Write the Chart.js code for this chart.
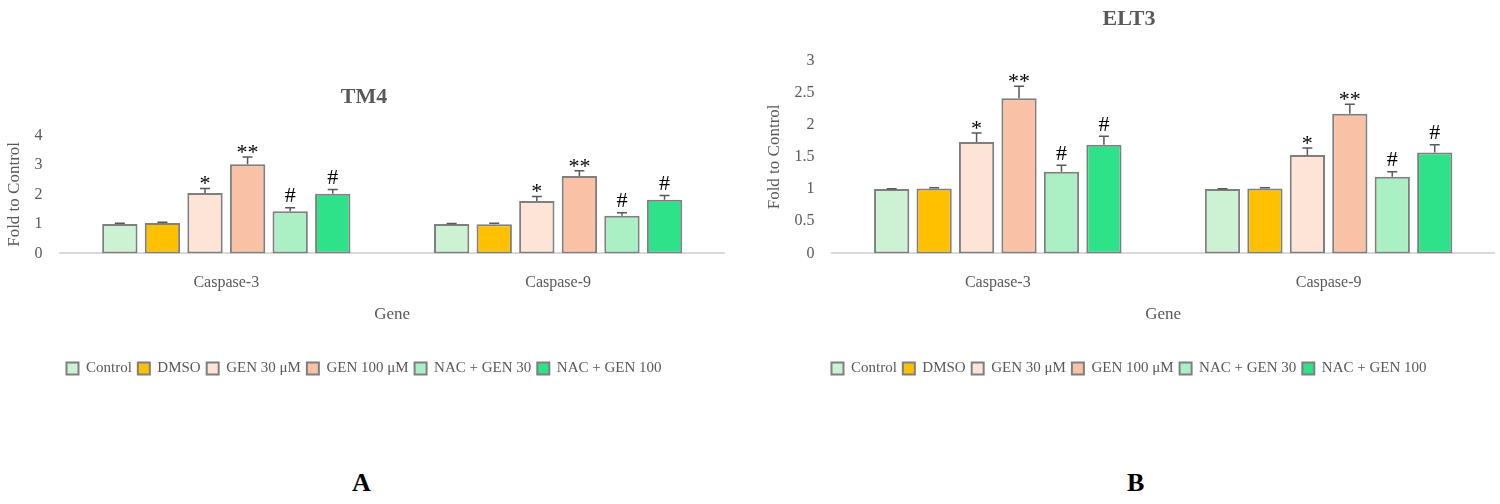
<!DOCTYPE html>
<html><head><meta charset="utf-8">
<script src="https://cdn.jsdelivr.net/npm/chart.js@4"></script>
<style>
body{margin:0;background:#fff;width:1500px;height:504px;position:relative;overflow:hidden;font-family:"Liberation Serif",serif}
.c{position:absolute}
.lab{position:absolute;font-weight:bold;font-size:26px;font-family:"Liberation Serif",serif;color:#000}
</style></head><body>
<div class="c" style="left:0;top:70px;width:730px;height:316px"><canvas id="a"></canvas></div>
<div class="c" style="left:760px;top:0;width:740px;height:386px"><canvas id="b"></canvas></div>
<div class="lab" style="left:352px;top:468px">A</div>
<div class="lab" style="left:1127px;top:468px">B</div>
<script>
const genes = ["Caspase-3","Caspase-9"];
const groups = ["Control","DMSO","GEN 30 μM","GEN 100 μM","NAC + GEN 30","NAC + GEN 100"];
const colors = ["#cdf2d3","#ffc000","#fde4d7","#f9c1a5","#abf0c5","#2ee28a"];
const marks = ["","","*","**","#","#"];
// values per group: [Caspase-3, Caspase-9]
const tm4Values = [[1,1],[1.03,0.99],[2.05,1.78],[3.02,2.62],[1.43,1.28],[2.02,1.82]];
const tm4Errors = [[0.02,0.01],[0.03,0.03],[0.15,0.15],[0.25,0.18],[0.12,0.1],[0.15,0.14]];
const eltValues = [[1,1],[1.01,1.01],[1.73,1.53],[2.41,2.17],[1.27,1.19],[1.69,1.57]];
const eltErrors = [[0.005,0.005],[0.01,0.01],[0.14,0.11],[0.19,0.15],[0.1,0.08],[0.13,0.12]];

const errPlugin = {
  id:'err',
  afterDatasetsDraw(chart){
    const ctx = chart.ctx, y = chart.scales.y;
    chart.data.datasets.forEach((ds,i)=>{
      const meta = chart.getDatasetMeta(i);
      meta.data.forEach((bar,j)=>{
        const v = ds.data[j], e = ds.errors[j];
        const yt = y.getPixelForValue(v+e), yb = y.getPixelForValue(v);
        ctx.save();
        ctx.strokeStyle = '#595959'; ctx.lineWidth = 1.5;
        ctx.beginPath(); ctx.moveTo(bar.x,yb); ctx.lineTo(bar.x,yt);
        ctx.moveTo(bar.x-5,yt); ctx.lineTo(bar.x+5,yt); ctx.stroke();
        if (ds.mark){
          ctx.fillStyle='#000'; ctx.font='22px "Liberation Serif"';
          ctx.textAlign='center'; ctx.textBaseline='bottom';
          ctx.fillText(ds.mark, bar.x, yt+(ds.mark=='#'?0:7));
        }
        ctx.restore();
      });
    });
  }
};

function make(id, title, vals, errs, max, step, tpad){
  return new Chart(document.getElementById(id), {
    type:'bar',
    data:{labels:genes, datasets:groups.map((g,i)=>({
      label:g, data:vals[i], errors:errs[i], mark:marks[i],
      backgroundColor:colors[i], borderColor:'#7f7f7f', borderWidth:2, borderSkipped:false
    }))},
    options:{
      responsive:true, maintainAspectRatio:false, animation:false,
      layout:{padding:{left:4,right:6,top:0,bottom:0}},
      categoryPercentage:0.77, barPercentage:0.83,
      scales:{
        x:{grid:{display:false},border:{color:'#d9d9d9',width:2},
           ticks:{color:'#595959',font:{family:'Liberation Serif',size:16},padding:12},
           title:{display:true,text:'Gene',color:'#595959',font:{family:'Liberation Serif',size:17},padding:{top:0,bottom:30}}},
        y:{min:0,max:max,ticks:{stepSize:step,color:'#595959',font:{family:'Liberation Serif',size:16},padding:10,
             callback:v=>String(Number(v))},
           grid:{display:false},border:{display:false},
           title:{display:true,text:'Fold to Control',color:'#595959',font:{family:'Liberation Serif',size:17},padding:0}}
      },
      plugins:{
        title:{display:true,text:title,color:'#595959',font:{family:'Liberation Serif',size:22,weight:'bold'},padding:tpad},
        legend:{position:'bottom',labels:{boxWidth:12,boxHeight:12,color:'#595959',font:{family:'Liberation Serif',size:15},padding:6}},
        tooltip:{enabled:false}
      }
    },
    plugins:[errPlugin]
  });
}
make('a','TM4',tm4Values,tm4Errors,4,1,{top:14,bottom:25});
make('b','ELT3',eltValues,eltErrors,3,0.5,{top:6,bottom:28});
</script></body></html>
